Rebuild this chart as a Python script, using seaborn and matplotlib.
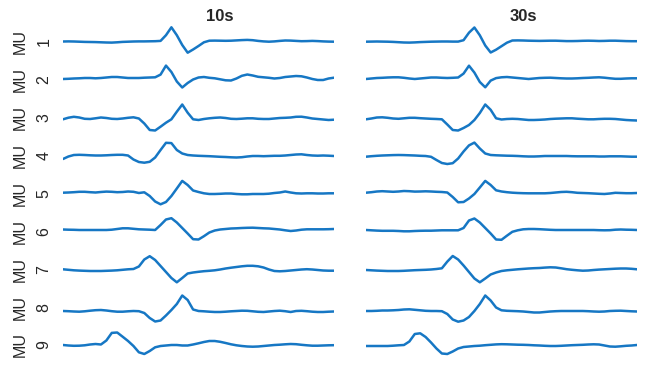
import matplotlib
matplotlib.use("Agg")
import numpy as np
import matplotlib.pyplot as plt
import seaborn as sns

# MUAP templates, 51 samples per trace (arbitrary units)
titles = ["10s", "30s"]
mu_numbers = ["1", "2", "3", "4", "5", "6", "7", "8", "9"]

mu1_10s = [0.2, 0.3, 0.2, 0.0, -0.2, -0.3, -0.4, -0.6, -0.8, -0.9, -0.6, -0.2, 0.0, 0.2, 0.3, 0.3, 0.4, 0.5,
           0.8, 6.5, 14.4, 6.5, -3.3, -11.0, -7.8, -4.3, -0.6, 1.0,
           1.1, 1.0, 0.9, 1.0, 1.3, 1.6, 1.8, 1.5, 0.8, 0.3, 0.0, 0.3, 0.8, 1.2, 1.1, 0.8, 0.5, 0.6, 0.8, 0.6, 0.3, 0.1, 0.0]
mu1_30s = [0.0, 0.1, 0.2, 0.1, 0.0, -0.2, -0.5, -0.8, -0.9, -0.7, -0.4, -0.2, 0.0, 0.1, 0.2, 0.2, 0.1, 0.1,
           1.5, 9.0, 14.2, 6.4, -3.8, -10.8, -8.0, -4.5, -1.0, 1.2,
           1.3, 1.2, 1.0, 0.9, 0.8, 0.9, 1.0, 1.0, 0.8, 0.6, 0.6, 0.7, 0.9, 1.0, 0.9, 0.7, 0.8, 1.0, 1.0, 0.8, 0.6, 0.5, 0.5]

mu2_10s = [0.6, 0.8, 1.1, 1.3, 1.6, 1.6, 1.3, 1.6, 2.1, 2.6, 2.6, 2.1, 1.6, 1.6, 1.6, 1.9, 2.1, 2.3,
           5.0, 14.0, 7.6, -1.9, -7.9, -3.4, 0.1, 2.1, 2.6, 1.8,
           1.3, 0.3, -0.7, -0.9, 1.1, 3.8, 5.1, 4.1, 2.8, 2.3, 1.8, 1.1, 1.6, 2.6, 3.1, 3.6, 3.3, 2.1, 0.6, -0.4, -0.4, 1.1, 1.9]
mu2_30s = [0.6, 1.1, 1.6, 1.8, 2.1, 2.3, 2.3, 1.8, 1.1, 0.6, 1.1, 1.6, 2.1, 2.1, 1.8, 1.6, 1.8, 2.1,
           6.0, 13.9, 7.0, -2.4, -7.7, -1.0, 1.5, 2.3, 2.6, 2.1,
           1.6, 1.1, 0.6, 1.1, 1.6, 1.8, 1.9, 1.6, 1.3, 1.1, 1.1, 1.3, 1.6, 1.8, 2.1, 2.3, 1.9, 1.3, 0.8, 0.8, 1.1, 1.3, 1.3]

mu3_10s = [-1.8, -0.2, 0.7, 0.0, -1.3, -1.5, -0.8, 0.0, -0.5, -1.3, -1.5, -1.0, -0.3, 0.2, -1.0,
           -6.0, -12.5, -13.0, -9.2, -5.2, -1.8, 5.8, 13.0, 4.8, -1.8, -2.5, -1.5, -0.8,
           -0.3, 0.0, -0.5, -1.3, -1.5, -1.2, -0.8, -0.8, -1.3, -1.5, -1.5, -1.0, -0.5, -0.3, 0.0, 0.7, 0.8, 0.0,
           -1.0, -1.5, -2.0, -2.5, -2.2]
mu3_30s = [-1.8, -1.0, 0.0, 0.2, -0.3, -1.0, -1.3, -0.8, -0.3, -0.3, -0.7, -1.0, -1.3, -1.5, -1.8,
           -7.0, -12.5, -13.0, -10.5, -7.5, -2.5, 4.5, 13.0, 7.7, -0.8,
           -2.0, -1.5, -1.3, -1.5, -2.0, -2.5, -2.5, -2.3, -2.0, -1.5, -1.2, -1.0, -0.8, -0.8, -1.2, -1.5, -1.8,
           -1.8, -1.5, -1.3, -1.3, -1.5, -2.0, -2.5, -2.8, -3.0]

mu4_10s = [-3.6, -1.1, 0.4, 0.6, 0.4, 0.1, -0.1, -0.1, 0.1, 0.4, 0.6, 0.6, -0.1, -4.1, -6.6, -7.3, -6.4,
           -2.1, 5.4, 12.6, 12.3, 5.4, 1.9, 0.4, -0.1, -0.4, -0.6, -0.8, -1.1, -1.4,
           -1.6, -1.9, -2.1, -1.8, -1.1, -0.6, -0.6, -0.8, -0.6, -0.4, -0.4, -0.1, 0.4, 0.9, 1.1, 0.4, -0.1,
           -0.3, -0.1, -0.3, -0.6]
mu4_30s = [-1.3, -0.8, -0.4, -0.1, 0.1, 0.3, 0.4, 0.3, 0.1, -0.1, -0.4, -0.6, -1.4, -4.6, -7.6, -8.6, -7.8,
           -3.1, 3.9, 10.0, 12.8, 6.9, 1.9, 0.4, 0.1, -0.1, -0.3, -0.4, -0.6, -0.9,
           -1.1, -1.1, -0.9, -0.6, -0.6, -0.6, -0.6, -0.6, -0.8, -0.9, -0.9, -0.9, -0.9, -1.1, -1.1, -0.9, -0.9,
           -0.9, -1.1, -1.3, -1.3]

mu5_10s = [0.6, 0.8, 1.1, 1.5, 1.5, 1.1, 0.8, 1.3, 1.7, 1.5, 1.1, 1.3, 1.8, 1.5, 0.3, 1.0,
           -2.7, -8.2, -11.0, -8.7, -2.7, 4.8, 12.4, 8.3, 2.8, 1.3, 0.0, -0.7, -0.7, -0.5,
           -0.2, -0.2, -0.7, -1.0, -1.0, -0.7, -0.7, -0.7, -0.4, 0.3, 0.8, 1.8, 0.8, 0.0, -0.2, 0.0, 0.0,
           -0.2, -0.2, 0.0, 0.0]
mu5_30s = [0.6, 1.1, 1.8, 2.1, 1.8, 1.5, 1.8, 2.3, 2.1, 1.7, 1.8, 2.0, 1.8, 1.5, 1.3, 0.8,
           -3.7, -9.0, -8.7, -5.2, -0.7, 5.8, 12.4, 8.3, 3.0, 1.8, 1.1, 0.6, 0.3, 0.1,
           0.0, 0.0, 0.0, 0.0, 0.3, 0.8, 1.3, 1.5, 1.1, 0.5, 0.3, 0.1, -0.2, -0.5, -0.7, -0.2, 0.5,
           0.3, 0.1, 0.1, 0.3]

mu6_10s = [1.7, 1.5, 1.4, 1.2, 1.2, 1.2, 1.2, 1.2, 1.2, 1.5, 2.2, 2.9, 2.9, 2.4, 1.9, 1.7, 1.5, 1.2,
           6.2, 11.7, 13.0, 8.7, 3.2, -2.3, -8.0, -8.3, -5.0, -1.3, 0.7, 1.7,
           2.2, 2.7, 2.9, 3.2, 3.4, 3.5, 3.2, 2.9, 2.7, 2.2, 1.7, 0.9, 0.2, 0.7, 1.5, 1.9, 1.9,
           1.9, 1.9, 2.0, 2.2]
mu6_30s = [1.2, 0.9, 0.6, 0.4, 0.4, 0.4, 0.2, -0.1, -0.1, 0.2, 0.4, 0.5, 0.5, 0.7, 0.9, 0.9, 0.9, 0.9,
           3.2, 10.7, 12.7, 8.7, 3.2, -2.3, -8.3, -8.6, -4.5, -0.6, 0.9, 1.9,
           2.2, 2.2, 2.0, 1.7, 1.4, 1.2, 1.2, 1.2, 1.2, 1.2, 1.2, 1.2, 1.2, 1.0, 0.9, 1.0, 1.5,
           1.7, 1.5, 1.4, 1.2]

mu7_10s = [-0.2, -0.7, -1.2, -1.5, -1.7, -1.9, -1.9, -1.9, -1.7, -1.5, -1.2, -0.7, -0.2, 0.1,
           2.6, 9.6, 12.9, 9.1, 3.1, -2.9, -8.9, -13.2, -8.9, -4.4,
           -3.4, -2.7, -2.1, -1.7, -1.2, -0.4, 0.6, 1.4, 2.1, 2.8, 3.3, 3.3, 2.8, 1.6, -0.4, -1.9, -2.2,
           -1.9, -1.4, -0.9, -0.4, -0.1, -0.4, -0.9, -1.4, -1.6, -1.6]
mu7_30s = [-0.9, -1.2, -1.5, -1.7, -1.9, -1.9, -1.9, -1.7, -1.4, -1.1, -0.9, -0.7, -0.4, 0.1,
           0.8, 7.5, 13.1, 9.6, 3.6, -2.9, -9.4, -13.2, -9.4, -5.4,
           -3.4, -1.9, -1.2, -0.7, -0.2, 0.2, 0.6, 0.9, 1.1, 1.5, 1.8, 1.6, 0.8, -0.1, -0.7, -1.2, -1.6,
           -1.4, -0.9, -0.5, -0.2, 0.1, 0.4, 0.6, 0.6, 0.3, -0.2]

mu8_10s = [-4.0, -4.2, -4.5, -4.7, -4.3, -3.7, -3.2, -3.0, -3.5, -4.2, -4.7, -4.7, -4.3, -4.0, -4.2,
           -6.0, -11.0, -14.5, -13.5, -8.5, -3.0, 3.0, 11.5, 7.0, -2.5,
           -4.0, -4.3, -4.7, -5.0, -5.0, -4.7, -4.3, -4.0, -3.7, -3.8, -4.3, -4.8, -5.0, -4.5, -4.0, -3.7,
           -4.2, -5.0, -4.0, -3.8, -4.2, -4.7, -5.0, -5.0, -4.7, -4.5]
mu8_30s = [-4.0, -4.0, -3.8, -3.5, -3.5, -3.3, -3.0, -2.5, -2.3, -2.8, -3.3, -3.8, -4.0, -4.0, -4.2,
           -7.0, -12.5, -14.7, -13.5, -10.0, -4.0, 3.0, 11.5, 6.5, -0.5,
           -3.3, -3.8, -4.0, -4.2, -4.5, -5.0, -5.5, -5.5, -5.0, -4.5, -4.2, -4.0, -4.0, -4.0, -4.0, -4.0,
           -4.2, -4.5, -4.7, -4.5, -4.0, -3.8, -3.7, -4.0, -4.3, -4.5]

mu9_10s = [-0.1, -0.6, -0.9, -0.8, -0.4, 0.4, 0.9, 0.4,
           4.4, 12.0, 12.4, 8.2, 3.9, -1.1, -7.4, -9.1, -6.1, -2.4, -1.1,
           -0.6, -0.1, -0.1, -0.6, -0.6, 0.4, 1.6, 2.9, 3.9, 3.9, 3.1, 1.9, 0.6, -0.4, -1.1, -1.6, -1.8,
           -1.6, -1.1, -0.6, -0.1, 0.2, 0.6, 0.9, 0.7, 0.1, -0.4, -0.8, -0.8, -0.6, -0.4, -0.3]
mu9_30s = [-1.1, -1.1, -1.1, -1.1, -1.1, -0.8, -0.4, -0.1,
           3.4, 10.9, 11.6, 7.9, 2.4, -3.6, -8.6, -9.1, -6.6, -3.6, -2.1,
           -1.6, -1.1, -0.8, -0.3, 0.1, 0.5, 0.7, 0.6, 0.4, 0.2, 0.1, -0.1, -0.4, -0.6, -0.9, -1.1, -1.1,
           -0.9, -0.6, -0.3, -0.1, 0.1, 0.4, 0.6, 0.4, -0.6, -1.6, -1.8, -1.4, -0.9, -0.6, -0.1]

traces_10s = [mu1_10s, mu2_10s, mu3_10s, mu4_10s, mu5_10s, mu6_10s, mu7_10s, mu8_10s, mu9_10s]
traces_30s = [mu1_30s, mu2_30s, mu3_30s, mu4_30s, mu5_30s, mu6_30s, mu7_30s, mu8_30s, mu9_30s]

sns.set_style("white")
plt.rcParams["font.family"] = ["Liberation Sans", "DejaVu Sans"]

W, H = 646, 367
line_color = "#1677C4"
half = 18.95  # half row height in data units

fig, axes = plt.subplots(
    9, 2, figsize=(W / 100, H / 100), dpi=100,
    gridspec_kw=dict(left=63 / W, right=637 / W, top=1 - 22.75 / H, bottom=1 - 363.85 / H,
                     hspace=0, wspace=32 / 271),
)

for col, traces in enumerate([traces_10s, traces_30s]):
    for row, trace in enumerate(traces):
        ax = axes[row, col]
        sns.lineplot(x=np.arange(len(trace)), y=trace, ax=ax, color=line_color, linewidth=1.8,
                     solid_joinstyle="round", solid_capstyle="round")
        ax.set_xlim(0, len(trace) - 1)
        ax.set_ylim(-half, half)
        ax.axis("off")
    axes[0, col].set_title(titles[col], x=0.579, pad=1, fontsize=12, fontweight="bold")

for row, num in enumerate(mu_numbers):
    yc = 1 - (41.7 + 37.9 * row) / H
    fig.text(20 / W, yc, "MU", rotation=90, ha="center", va="center", fontsize=11.5)
    fig.text(44 / W, yc, num, rotation=90, ha="center", va="center", fontsize=11.5)

plt.savefig("out.png", dpi=100)
